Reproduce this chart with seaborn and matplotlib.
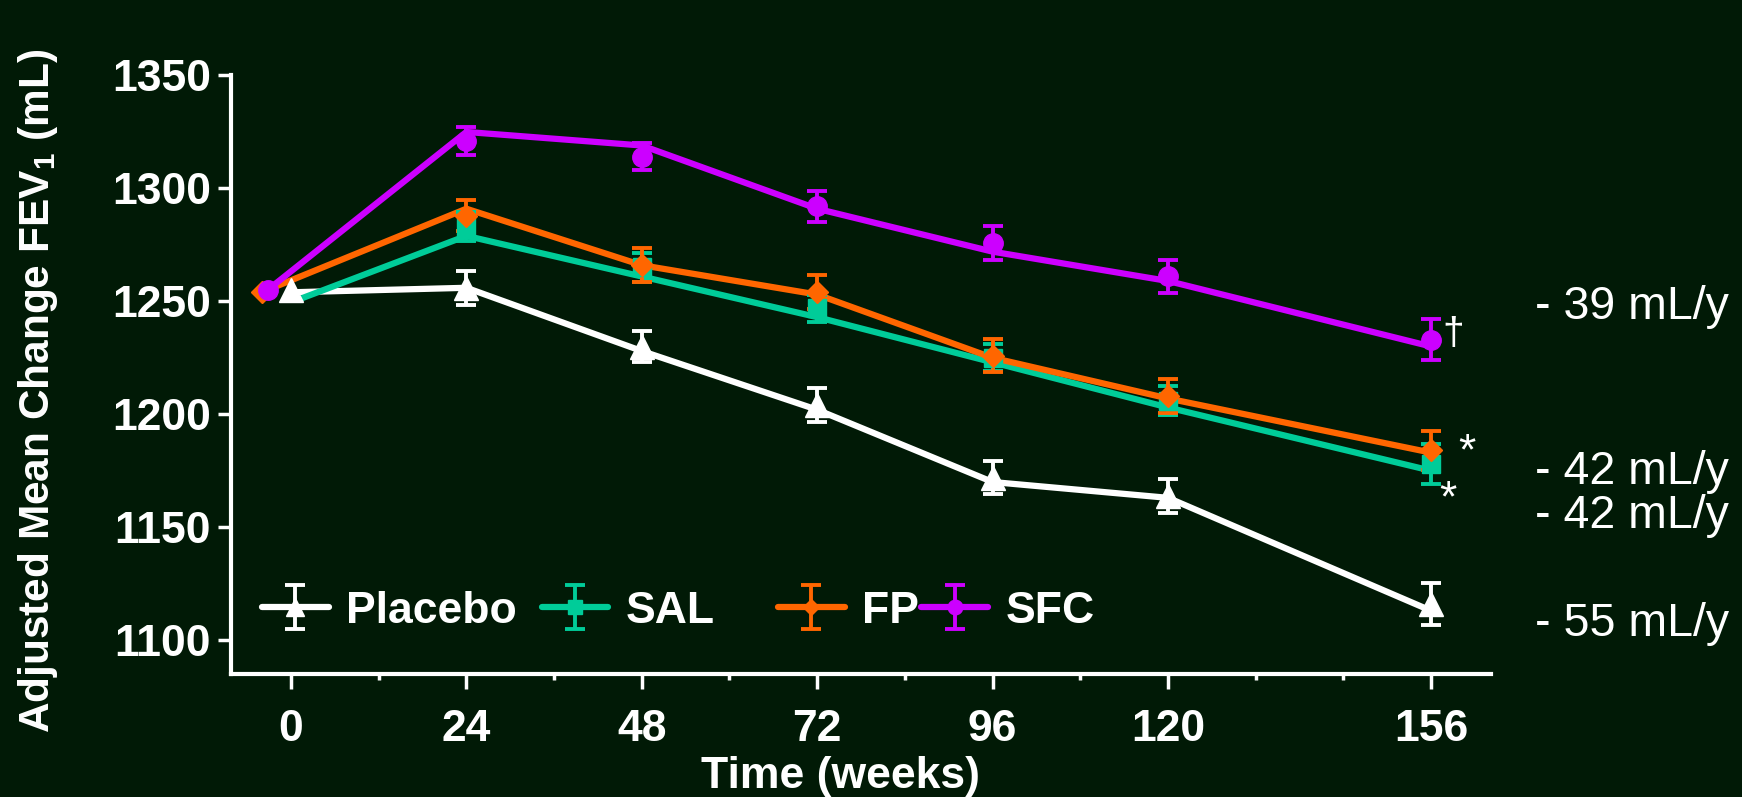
import numpy as np
import pandas as pd
import matplotlib
matplotlib.use("Agg")
import matplotlib.pyplot as plt
import seaborn as sns

# ---------------- data ----------------
weeks = [0, 24, 48, 72, 96, 120, 156]
groups = ["Placebo", "SAL", "FP", "SFC"]

# adjusted means (markers); SAL has no visible baseline marker
placebo_mean = [1255, 1256, 1230, 1204, 1172, 1164, 1116]
sal_mean = [None, 1283, 1265, 1247, 1225, 1206, 1178]
fp_mean = [1254, 1288, 1266, 1254, 1226, 1208, 1184]
sfc_mean = [1255, 1321, 1314, 1292, 1276, 1261, 1233]

# standard errors (no bar at baseline)
placebo_se = [None, 7.5, 7.0, 7.5, 7.5, 7.5, 9.5]
sal_se = [None, 6.5, 6.5, 6.0, 6.0, 6.5, 9.0]
fp_se = [None, 7.0, 7.5, 7.5, 7.5, 7.5, 8.5]
sfc_se = [None, 6.0, 6.0, 7.0, 7.5, 7.5, 9.0]

# connecting trend lines
placebo_line = [1254, 1256, 1228, 1202, 1170, 1163, 1113]
sal_line = [1251, 1279, 1261, 1243, 1223, 1203, 1175]
fp_line = [1254, 1291, 1266, 1253, 1225, 1207, 1183]
sfc_line = [1255, 1325, 1319, 1291, 1272, 1259, 1230]

slope_labels = ["- 39 mL/y", "- 42 mL/y", "- 42 mL/y", "- 55 mL/y"]
y_ticks = [1100, 1150, 1200, 1250, 1300, 1350]
x_minor = [12, 36, 60, 84, 108, 132, 144]

# ---------------- style ----------------
BG = "#011a06"
colors = {"Placebo": "#ffffff", "SAL": "#00cc99", "FP": "#ff6600", "SFC": "#cc00ff"}
markers = {"Placebo": "^", "SAL": "s", "FP": "D", "SFC": "o"}
msizes = {"Placebo": 17, "SAL": 13, "FP": 11, "SFC": 14}
dodge0 = {"Placebo": 0.0, "SAL": 1.2, "FP": -4.0, "SFC": -3.2}

sns.set_theme(style="ticks")
plt.rcParams["font.family"] = ["Liberation Sans", "DejaVu Sans"]
plt.rcParams["mathtext.fontset"] = "custom"
plt.rcParams["mathtext.rm"] = "Liberation Sans:bold"
plt.rcParams["mathtext.default"] = "rm"

means = {"Placebo": placebo_mean, "SAL": sal_mean, "FP": fp_mean, "SFC": sfc_mean}
ses = {"Placebo": placebo_se, "SAL": sal_se, "FP": fp_se, "SFC": sfc_se}
lines = {"Placebo": placebo_line, "SAL": sal_line, "FP": fp_line, "SFC": sfc_line}

def xpos(g):
    x = np.array(weeks, dtype=float)
    x[0] += dodge0[g]
    return x

def arr(v):
    return np.array([np.nan if s is None else s for s in v], dtype=float)

rows = []
for g in groups:
    for x, v in zip(xpos(g), lines[g]):
        rows.append({"x": x, "value": v, "group": g})
df = pd.DataFrame(rows)

fig = plt.figure(figsize=(17.42, 7.97), dpi=100, facecolor=BG)
ax = fig.add_axes([0.1326, 0.1543, 0.7234, 0.751])
ax.set_facecolor(BG)

sns.lineplot(data=df, x="x", y="value", hue="group", hue_order=groups,
             palette=colors, linewidth=4.5, legend=False, sort=False,
             estimator=None, ax=ax, zorder=2)

eb_kw = dict(elinewidth=2.8, capsize=7, capthick=2.8)
for g in groups:
    ax.errorbar(xpos(g), arr(means[g]), yerr=arr(ses[g]), fmt=markers[g],
                ms=msizes[g], color=colors[g], ecolor=colors[g], ls="none",
                zorder=3, **eb_kw)

# legend proxies
handles = {}
for g in groups:
    handles[g] = ax.errorbar([np.nan], [np.nan], yerr=[1.0], fmt=markers[g],
                             ls="-", lw=4.5, ms=msizes[g], color=colors[g],
                             ecolor=colors[g], label=g, **eb_kw)

leg_kw = dict(frameon=False, loc="center left", borderpad=0, borderaxespad=0,
              handlelength=1.5, handletextpad=0.4, markerscale=0.75,
              prop={"family": "Liberation Sans", "weight": "bold", "size": 32},
              labelcolor="white")
leg1 = ax.legend([handles["Placebo"], handles["SAL"]], ["Placebo", "SAL"], ncol=2,
                 columnspacing=0.55, bbox_to_anchor=(0.0246, 0.105), **leg_kw)
ax.add_artist(leg1)
ax.legend([handles["FP"], handles["SFC"]], ["FP", "SFC"], ncol=2,
          columnspacing=0.05, bbox_to_anchor=(0.434, 0.105), **leg_kw)

# annotations next to final points
ann_kw = dict(textcoords="offset pixels", color="white", ha="center", va="center")
ax.annotate("\u2020", xy=(156, sfc_mean[-1]), xytext=(22, 6), fontsize=28, **ann_kw)
ax.annotate("*", xy=(156, fp_mean[-1]), xytext=(36, -2), fontsize=32, **ann_kw)
ax.annotate("*", xy=(156, sal_mean[-1]), xytext=(17, -36), fontsize=32, **ann_kw)

# slopes text at right
for lab, yf in zip(slope_labels, [0.615, 0.408, 0.352, 0.2166]):
    fig.text(0.881, yf, lab, color="white", fontsize=33.5, va="center", ha="left")

# axes styling
ax.set_xlim(-8.2, 164.2)
ax.set_ylim(1085, 1350)
ax.set_xticks(weeks)
ax.set_xticks(x_minor, minor=True)
ax.set_yticks(y_ticks)
for s in ["top", "right"]:
    ax.spines[s].set_visible(False)
for s in ["left", "bottom"]:
    ax.spines[s].set_color("white")
    ax.spines[s].set_linewidth(3)
ax.tick_params(axis="x", which="major", length=10.5, width=2.5, color="white",
               labelcolor="white", labelsize=32, pad=15)
ax.tick_params(axis="x", which="minor", length=4, width=2.5, color="white")
ax.tick_params(axis="y", length=9.5, width=2.5, color="white",
               labelcolor="white", labelsize=32, pad=5)
for lab in ax.get_xticklabels() + ax.get_yticklabels():
    lab.set_fontweight("bold")

ax.set_xlabel("Time (weeks)", color="white", fontsize=32, fontweight="bold")
ax.xaxis.set_label_coords(0.484, -0.137)
ax.xaxis.label.set_va("top")
ax.set_ylabel("Adjusted Mean Change FEV$_1$ (mL)", color="white", fontsize=30.5,
              fontweight="bold")
ax.yaxis.set_label_coords(-0.136, 0.473)

fig.savefig("out.png", dpi=100, facecolor=BG)
